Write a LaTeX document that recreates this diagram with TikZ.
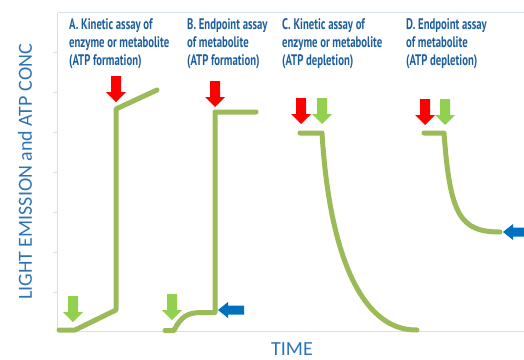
\documentclass[tikz,border=0pt]{standalone}
\usepackage{fontspec}
\newfontfamily\titlefont[FakeStretch=0.70]{PT Sans Bold}
\newfontfamily\axisfont{Carlito}
\definecolor{curvegreen}{HTML}{9BBB59}
\definecolor{arrgreen}{HTML}{92D050}
\definecolor{arrred}{HTML}{FF0000}
\definecolor{arrblue}{HTML}{0070C0}
\definecolor{titleblue}{HTML}{1F5F9E}
\definecolor{labelblue}{HTML}{2E74B5}
\definecolor{gridblue}{HTML}{D3DEEE}
\tikzset{
  curve/.style={draw=curvegreen, line width=5pt, line cap=round, line join=round},
  gridline/.style={draw=gridblue, line width=0.8pt},
  title/.style={anchor=base west, inner sep=0pt, text=titleblue, font=\titlefont\fontsize{15.3}{18}\selectfont},
  axislabel/.style={inner sep=0pt, text=labelblue, font=\axisfont\fontsize{20}{24}\selectfont},
  darrow/.pic={\fill (-5,0) -- (5,0) -- (5,16) -- (10,16) -- (0,26) -- (-10,16) -- (-5,16) -- cycle;},
  larrow/.pic={\fill (0,0) -- (10,-8) -- (10,-4.5) -- (26,-4.5) -- (26,4.5) -- (10,4.5) -- (10,8) -- cycle;}
}
\begin{document}
\begin{tikzpicture}[x=1pt,y=-1pt]
\useasboundingbox (0,0) rectangle (524,359);
% axes
\draw[gridline] (57.5,12.5) -- (524,12.5);
\draw[gridline] (57.5,12.5) -- (57.5,331.5) -- (524,331.5);
\foreach \yy in {52,92,132,172,212,252,292}
  \draw[gridline] (53,\yy) -- (57.5,\yy);
% axis labels
\node[axislabel, rotate=90] (ylab) at (25,172) {LIGHT EMISSION and ATP CONC};
\node[axislabel] (xlab) at (292,349) {TIME};
% titles
\node[title] (tA1) at (69,29.5) {A. Kinetic assay of};
\node[title] (tA2) at (69,47.5) {enzyme or metabolite};
\node[title] (tA3) at (69,65.5) {(ATP formation)};
\node[title] (tB1) at (187,29.5) {B. Endpoint assay};
\node[title] (tB2) at (187,47.5) {of metabolite};
\node[title] (tB3) at (187,65.5) {(ATP formation)};
\node[title] (tC1) at (282,29.5) {C. Kinetic assay of};
\node[title] (tC2) at (282,47.5) {enzyme or metabolite};
\node[title] (tC3) at (282,65.5) {(ATP depletion)};
\node[title] (tD1) at (406,29.5) {D. Endpoint assay};
\node[title] (tD2) at (406,47.5) {of metabolite};
\node[title] (tD3) at (406,65.5) {(ATP depletion)};
% curves
\draw[curve] (59,330) -- (75,330) -- (116,310) -- (116,109) -- (157,90);
\draw[curve] (165,330.5) -- (174,330.5) .. controls (181,316) and (188,313) .. (200,312.5) -- (215,312.5) -- (215,112) -- (256,112);
\draw[curve] (300,133) -- (322,133) .. controls (329,250) and (360,331) .. (417,330);
\draw[curve] (424,133) -- (444,133) .. controls (450,215) and (460,232) .. (500,232);
% arrows
\pic[color=arrred] at (116,76) {darrow};
\pic[color=arrgreen] at (73,296) {darrow};
\pic[color=arrred] at (215,81) {darrow};
\pic[color=arrgreen] at (172,294) {darrow};
\pic[color=arrred] at (301,98) {darrow};
\pic[color=arrgreen] at (322,98) {darrow};
\pic[color=arrred] at (425,99) {darrow};
\pic[color=arrgreen] at (445,99) {darrow};
\pic[color=arrblue] at (218,310) {larrow};
\pic[color=arrblue] at (503,232) {larrow};
\end{tikzpicture}
\end{document}
